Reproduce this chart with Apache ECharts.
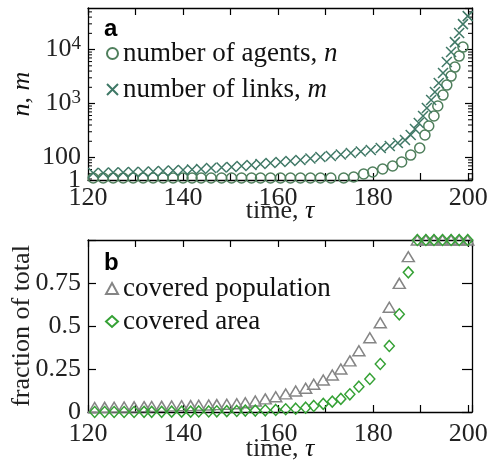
<!DOCTYPE html>
<html>
<head>
<meta charset="utf-8">
<script src="https://cdn.jsdelivr.net/npm/echarts@6/dist/echarts.min.js"></script>
<style>
  html, body { margin: 0; padding: 0; background: #fff; }
  #chart { width: 490px; height: 466px; }
</style>
</head>
<body>
<div id="chart"></div>
<script>
// ---- panel a: growth of the network ----
const tauAgents = [121.1, 123.2, 125.3, 127.4, 129.5, 131.6, 133.7, 135.8, 137.9, 140.0,
  141.9, 143.8, 145.9, 148.1, 150.2, 152.3, 154.4, 156.3, 158.4, 160.5, 162.6, 164.7,
  166.8, 168.9, 171.1, 173.8, 175.9, 178.0, 179.9, 182.0, 184.1, 186.0, 187.9, 189.8,
  190.9, 191.7, 192.8, 193.6, 194.7, 195.5, 196.4, 197.2, 198.1, 198.9];
const agents = [41.7, 41.7, 41.7, 41.7, 41.7, 41.7, 41.7, 41.7, 41.7, 41.7,
  41.7, 41.7, 41.7, 41.7, 41.7, 41.7, 41.7, 41.7, 41.7, 41.7, 41.7, 41.7,
  41.7, 41.7, 41.7, 41.7, 43.5, 49.5, 53.8, 61.2, 69.6, 82.5, 111, 150,
  261, 383, 587, 900, 1436, 2201, 3229, 4742, 7586, 11120];

const tauLinks = [121.1, 123.2, 125.3, 127.4, 129.5, 131.6, 133.7, 135.8, 137.9, 140.0,
  141.9, 143.8, 145.9, 148.1, 150.2, 152.3, 154.4, 156.3, 158.4, 160.5, 162.6, 164.7,
  166.8, 168.9, 171.1, 173.2, 175.3, 177.4, 179.5, 181.6, 183.5, 185.2, 186.7, 187.9,
  188.8, 189.6, 190.5, 191.3, 192.2, 193.0, 193.8, 194.7, 195.5, 196.4, 197.2, 198.1,
  198.9, 199.9];
const links = [51.6, 51.6, 52.7, 52.7, 53.8, 53.8, 55.1, 56.2, 57.4, 58.7,
  60, 61.2, 63.9, 65.3, 66.7, 69.6, 72.6, 75.8, 79.1, 82.5, 86.1, 89.9,
  95.8, 102, 107, 114, 121, 129, 138, 150, 163, 186, 211, 261,
  337, 436, 587, 826, 1161, 1633, 2397, 3673, 5874, 8995, 13770, 20220,
  29650, 41700];

// ---- panel b: coverage ----
const tauCover = [121.4, 123.5, 125.5, 127.6, 129.7, 131.8, 133.4, 135.5, 137.6, 139.7,
  141.6, 143.3, 145.4, 147.1, 149.2, 151.3, 153.1, 155.2, 157.3, 159.5, 161.6, 163.7,
  165.8, 167.5, 169.5, 171.4, 173.2, 175.1, 177.0, 179.3, 181.5, 183.4, 185.5, 187.4,
  189.3, 191.1, 192.8, 194.6, 196.4, 198.1, 199.9];
const coveredPopulation = [0.026, 0.027, 0.028, 0.029, 0.030, 0.031, 0.032, 0.033, 0.035, 0.036,
  0.037, 0.039, 0.041, 0.043, 0.045, 0.048, 0.054, 0.064, 0.076, 0.089, 0.105, 0.122,
  0.138, 0.161, 0.186, 0.215, 0.25, 0.297, 0.356, 0.432, 0.519, 0.609, 0.748, 0.903,
  1, 1, 1, 1, 1, 1, 1];
const coveredArea = [0, 0, 0, 0, 0, 0.001, 0.001, 0.001, 0.002, 0.002,
  0.002, 0.003, 0.003, 0.004, 0.005, 0.006, 0.008, 0.008, 0.010, 0.012, 0.016, 0.019,
  0.025, 0.035, 0.047, 0.060, 0.076, 0.103, 0.147, 0.192, 0.279, 0.384, 0.568, 0.812,
  1, 1, 1, 1, 1, 1, 1];

// ---- axis ticks and labels ----
const timeLabels = [120, 140, 160, 180, 200];
const logLabels = { 100: '100', 1000: '10{s|3}', 10000: '10{s|4}' };
const logBottomLabel = '1';
const logMinorTicks = [40, 50, 60, 70, 80, 90, 200, 300, 400, 500, 600, 700, 800, 900,
  2000, 3000, 4000, 5000, 6000, 7000, 8000, 9000, 20000, 30000, 40000, 50000];
const fracLabels = [0, 0.25, 0.5, 0.75];

const SERIF = '"Liberation Serif", "Times New Roman", serif';
const SANS = '"Liberation Sans", Arial, sans-serif';
const FS = 26;
const LOG_MIN = 38.3;
const LOG_MAX = 59000;
const C_AGENTS = '#4f7f5c';
const C_LINKS = '#3f7866';
const C_POP = '#858585';
const C_AREA = '#35a135';

const pairs = (xs, ys) => xs.map((x, i) => [x, ys[i]]);
const italicRich = { i: { fontStyle: 'italic', fontFamily: SERIF, fontSize: FS, color: '#111' } };
const axisLineStyle = { color: '#000', width: 1.3 };

function timeAxis(grid, pos, labelled, margin) {
  return {
    type: 'value', gridIndex: grid, position: pos, min: 120, max: 200.8, interval: 10,
    axisLine: { show: true, onZero: false, lineStyle: axisLineStyle },
    axisTick: { show: true, inside: true, length: 7, lineStyle: { color: '#000', width: 1.2 } },
    splitLine: { show: false },
    axisLabel: {
      show: labelled, interval: 0, margin: margin, fontFamily: SERIF, fontSize: FS, color: '#222',
      formatter: v => (timeLabels.indexOf(v) >= 0 ? String(v) : '')
    },
    name: labelled ? 'time, {i|τ}' : '', nameLocation: 'middle', nameMoveOverlap: false,
    nameGap: grid === 0 ? 18 : 24,
    nameTextStyle: { fontFamily: SERIF, fontSize: FS, color: '#222', rich: italicRich }
  };
}

function logAxis(pos, labelled) {
  return {
    type: 'log', logBase: 10, gridIndex: 0, position: pos, min: LOG_MIN, max: LOG_MAX,
    axisLine: { show: true, onZero: false, lineStyle: axisLineStyle },
    axisTick: { show: true, inside: true, length: 7, lineStyle: { color: '#000', width: 1.2 } },
    splitLine: { show: false },
    axisLabel: {
      show: labelled, showMinLabel: false, showMaxLabel: false, margin: 7,
      fontFamily: SERIF, fontSize: FS, lineHeight: 18, color: '#222',
      formatter: v => logLabels[Math.round(v)] || '',
      // exponent: smaller glyph lifted by bottom padding
      rich: { s: { fontFamily: SERIF, fontSize: 19, lineHeight: 19, padding: [0, 0, 12, 0], verticalAlign: 'middle', color: '#222' } }
    },
    name: labelled ? '{i|n}, {i|m}' : '', nameLocation: 'middle', nameGap: 53, nameMoveOverlap: false,
    nameTextStyle: { fontFamily: SERIF, fontSize: FS, color: '#222', rich: italicRich }
  };
}

// label of the lower end of the logarithmic axis
const logFloorAxis = {
  type: 'log', logBase: 10, gridIndex: 0, position: 'left', min: LOG_MIN, max: LOG_MAX,
  axisLine: { show: false }, axisTick: { show: false }, splitLine: { show: false },
  axisLabel: {
    show: true, showMinLabel: true, showMaxLabel: false, margin: 7,
    fontFamily: SERIF, fontSize: FS, lineHeight: 18, color: '#222',
    formatter: v => (v < 45 ? logBottomLabel : '')
  }
};

function fracAxis(pos, labelled) {
  return {
    type: 'value', gridIndex: 1, position: pos, min: 0, max: 1, interval: 0.25,
    axisLine: { show: true, onZero: false, lineStyle: axisLineStyle },
    axisTick: { show: true, inside: true, length: pos === 'right' ? 10 : 8, lineStyle: { color: '#000', width: 1.2 } },
    splitLine: { show: false },
    axisLabel: {
      show: labelled, margin: 7, fontFamily: SERIF, fontSize: FS, color: '#222',
      formatter: v => (fracLabels.indexOf(v) >= 0 ? String(v) : '')
    },
    name: labelled ? 'fraction of total' : '', nameLocation: 'middle', nameGap: 53, nameMoveOverlap: false,
    nameTextStyle: { fontFamily: SERIF, fontSize: FS, color: '#222' }
  };
}

// short minor ticks of the logarithmic axis, drawn on both sides of panel a
function minorTick(params, api) {
  const y = api.coord([api.value(0), api.value(1)])[1];
  const cs = params.coordSys;
  const st = { stroke: '#000', lineWidth: 1 };
  return {
    type: 'group',
    children: [
      { type: 'line', shape: { x1: cs.x, y1: y, x2: cs.x + 4, y2: y }, style: st },
      { type: 'line', shape: { x1: cs.x + cs.width, y1: y, x2: cs.x + cs.width - 4, y2: y }, style: st }
    ]
  };
}

const legendText = name => name.replace(/, ([nm])$/, ', {i|$1}');
const markerStyle = c => ({ color: 'rgba(0,0,0,0)', borderColor: c, borderWidth: 1.5, opacity: 1 });

const option = {
  animation: false,
  backgroundColor: '#fff',
  grid: [
    { left: 88, top: 8, width: 384, height: 172, containLabel: false, outerBoundsMode: 'none' },
    { left: 88, top: 240, width: 384, height: 172, containLabel: false, outerBoundsMode: 'none' }
  ],
  xAxis: [
    timeAxis(0, 'bottom', true, 5),
    timeAxis(0, 'top', false, 5),
    timeAxis(1, 'bottom', true, 9),
    timeAxis(1, 'top', false, 9)
  ],
  yAxis: [
    logAxis('left', true),
    logAxis('right', false),
    fracAxis('left', true),
    fracAxis('right', false),
    logFloorAxis
  ],
  legend: [
    {
      data: ['number of agents, n', 'number of links, m'],
      orient: 'vertical', left: 101, top: 35, itemGap: 9, padding: 5,
      itemWidth: 11, itemHeight: 11, selectedMode: false,
      formatter: legendText,
      textStyle: { fontFamily: SERIF, fontSize: 27, color: '#111', lineHeight: 26,
        rich: { i: { fontStyle: 'italic', fontFamily: SERIF, fontSize: 27, color: '#111' } } }
    },
    {
      data: ['covered population', 'covered area'],
      orient: 'vertical', left: 100, top: 270, itemGap: 6, padding: 5,
      itemWidth: 12, itemHeight: 11, selectedMode: false,
      textStyle: { fontFamily: SERIF, fontSize: 27, color: '#111', lineHeight: 26 }
    }
  ],
  graphic: [
    { type: 'text', x: 104, y: 29, style: { text: 'a', font: 'bold 24px ' + SANS, fill: '#000', textVerticalAlign: 'middle', verticalAlign: 'middle' } },
    { type: 'text', x: 104, y: 263, style: { text: 'b', font: 'bold 24px ' + SANS, fill: '#000', textVerticalAlign: 'middle', verticalAlign: 'middle' } }
  ],
  series: [
    {
      type: 'custom', name: 'minor', xAxisIndex: 0, yAxisIndex: 0, silent: true, clip: false,
      data: logMinorTicks.map(v => [120, v]), renderItem: minorTick, z: 1
    },
    {
      type: 'scatter', name: 'number of agents, n', xAxisIndex: 0, yAxisIndex: 0,
      data: pairs(tauAgents, agents), symbol: 'circle', symbolSize: 10,
      itemStyle: markerStyle(C_AGENTS), z: 3
    },
    {
      type: 'scatter', name: 'number of links, m', xAxisIndex: 0, yAxisIndex: 0,
      data: pairs(tauLinks, links), symbol: 'path://M0,0L10,10M10,0L0,10', symbolSize: 10,
      itemStyle: markerStyle(C_LINKS), z: 3
    },
    {
      type: 'scatter', name: 'covered population', xAxisIndex: 2, yAxisIndex: 2,
      data: pairs(tauCover, coveredPopulation), symbol: 'triangle', symbolSize: [12, 10],
      itemStyle: markerStyle(C_POP), z: 3
    },
    {
      type: 'scatter', name: 'covered area', xAxisIndex: 2, yAxisIndex: 2,
      data: pairs(tauCover, coveredArea), symbol: 'diamond', symbolSize: [10, 11],
      itemStyle: markerStyle(C_AREA), z: 4
    }
  ]
};

const chart = echarts.init(document.getElementById('chart'), null, { renderer: 'canvas' });
chart.setOption(option);
</script>
</body>
</html>
